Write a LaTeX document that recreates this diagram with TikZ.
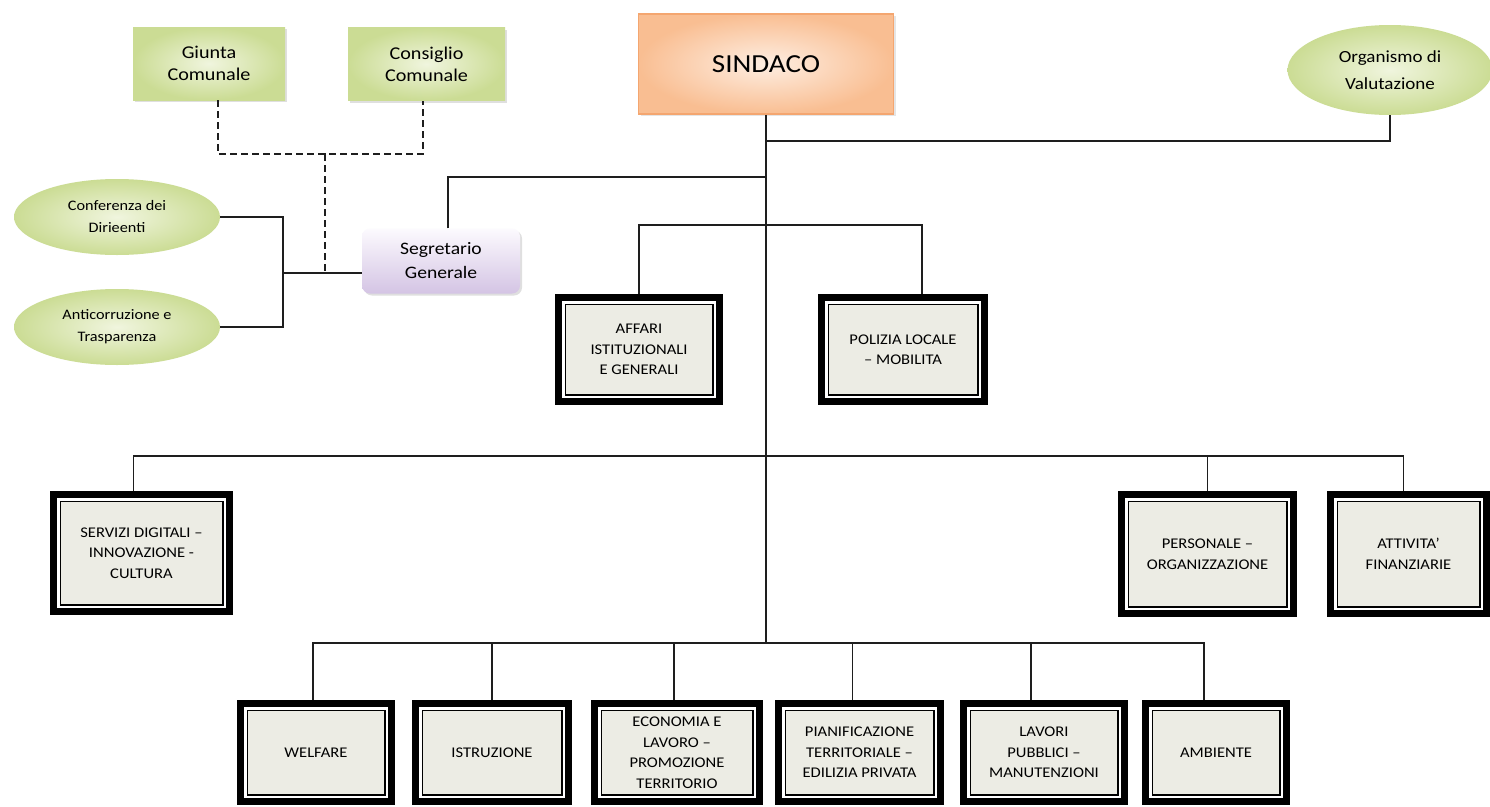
\documentclass[tikz,border=0pt]{standalone}
\usepackage{fontspec}
\setmainfont{Carlito}[FakeStretch=1.12]
\setsansfont{Carlito}[FakeStretch=1.12]
\usepackage{tikz}
\usetikzlibrary{calc,positioning,shapes.geometric,shadows}
\definecolor{verde}{RGB}{203,220,148}
\definecolor{verdeChiaro}{RGB}{240,245,222}
\definecolor{pesca}{RGB}{249,190,146}
\definecolor{pescaChiaro}{RGB}{254,238,226}
\definecolor{bordoPesca}{RGB}{244,166,112}
\definecolor{lilla}{RGB}{212,196,228}
\definecolor{lillaChiaro}{RGB}{252,250,254}
\definecolor{fondo}{RGB}{236,236,228}
\definecolor{linea}{RGB}{30,30,30}
\tikzset{%
  % Specifications for style of nodes:
  organo/.style = {rectangle, inner color=verdeChiaro, outer color=verde,
    drop shadow={shadow xshift=2pt, shadow yshift=-2pt, opacity=0.25},
    minimum width=152pt, minimum height=73pt,
    text centered, font=\sffamily\fontsize{18}{22}\selectfont},
  consulta/.style = {ellipse, inner color=verdeChiaro, outer color=verde,
    minimum width=206pt, minimum height=76pt, inner sep=0pt,
    text centered, font=\sffamily\fontsize{14.5}{22}\selectfont},
  capo/.style = {rectangle, draw=bordoPesca, line width=1.5pt,
    inner color=pescaChiaro, outer color=pesca,
    drop shadow={shadow xshift=2pt, shadow yshift=-2pt, opacity=0.2},
    minimum width=255pt, minimum height=100pt,
    text centered, font=\sffamily\fontsize{26}{30}\selectfont},
  segretario/.style = {rectangle, rounded corners=8pt,
    top color=lillaChiaro, bottom color=lilla,
    drop shadow={shadow xshift=2pt, shadow yshift=-2pt, opacity=0.25},
    minimum width=158pt, minimum height=65pt,
    text centered, font=\sffamily\fontsize{17.5}{24}\selectfont},
  settore/.style = {rectangle, draw=black, line width=7pt, fill=fondo,
    path picture={
      \draw[white, line width=2.5pt]
        ([shift={(4.75pt,-4.75pt)}]path picture bounding box.north west) rectangle
        ([shift={(-4.75pt,4.75pt)}]path picture bounding box.south east);
      \draw[black, line width=1.5pt]
        ([shift={(6.75pt,-6.75pt)}]path picture bounding box.north west) rectangle
        ([shift={(-6.75pt,6.75pt)}]path picture bounding box.south east);
    },
    text centered, font=\sffamily\fontsize{14.8}{20.5}\selectfont},
  link/.style = {draw=linea, line width=1.3pt},
  linkDash/.style = {link, dash pattern=on 7pt off 4pt},
}

\begin{document}
\begin{tikzpicture}[x=1pt, y=-1pt, every node/.style={align=center}]
  \useasboundingbox[fill=white] (0,0) rectangle (1490,806);
  % Specification of nodes (position, etc.)
  \node(Sindaco)[capo] at (766,64) {SINDACO};
  \node(Giunta)[organo] at (209,63.5) {Giunta\\Comunale};
  \node(Consiglio)[organo, minimum width=157pt] at (426.5,64) {Consiglio\\Comunale};
  \node(OIV)[consulta, minimum width=205pt, minimum height=90pt,
    font=\sffamily\fontsize{17}{27}\selectfont] at (1390,70) {Organismo di\\Valutazione};
  \node(Conf)[consulta] at (117,217) {Conferenza dei\\Dirieenti};
  \node(Anti)[consulta] at (117,327) {Anticorruzione e\\Trasparenza};
  \node(Segr)[segretario] at (441,261) {Segretario\\Generale};
  \node(Affari)[settore, minimum width=161pt, minimum height=104pt] at (639,349.5)
    {AFFARI\\ISTITUZIONALI\\E GENERALI};
  \node(Polizia)[settore, minimum width=163pt, minimum height=104pt] at (903,349.5)
    {POLIZIA LOCALE\\– MOBILITA};
  \node(Servizi)[settore, minimum width=176pt, minimum height=117pt] at (141.5,553)
    {SERVIZI DIGITALI –\\INNOVAZIONE -\\CULTURA};
  \node(Pers)[settore, minimum width=172pt, minimum height=119pt] at (1207.5,554)
    {PERSONALE –\\ORGANIZZAZIONE};
  \node(Fin)[settore, minimum width=156pt, minimum height=119pt] at (1408.5,554)
    {ATTIVITA'\\FINANZIARIE};
  \node(Welf)[settore, minimum width=151pt, minimum height=98pt] at (316,752.5) {WELFARE};
  \node(Istr)[settore, minimum width=153pt, minimum height=98pt] at (492,752.5) {ISTRUZIONE};
  \node(Econ)[settore, minimum width=165pt, minimum height=98pt] at (677,752.5)
    {ECONOMIA E\\LAVORO –\\PROMOZIONE\\TERRITORIO};
  \node(Pian)[settore, minimum width=162pt, minimum height=98pt] at (859.5,752.5)
    {PIANIFICAZIONE\\TERRITORIALE –\\EDILIZIA PRIVATA};
  \node(LLPP)[settore, minimum width=161pt, minimum height=98pt] at (1044,752.5)
    {LAVORI\\PUBBLICI –\\MANUTENZIONI};
  \node(Amb)[settore, minimum width=141pt, minimum height=98pt] at (1216,752.5) {AMBIENTE};
  % junctions on the main line
  \coordinate (tOIV) at (766,141);
  \coordinate (tSegr) at (766,177);
  \coordinate (bus1) at (766,225);
  \coordinate (bus2) at (766,456);
  \coordinate (bus3) at (766,643);
  \coordinate (dashJ) at (325,154);
  \coordinate (brk) at (283,273);
  \draw[link] (Sindaco.south) -- (bus3);
  \draw[link] (OIV.south) |- (tOIV);
  \draw[link] ([xshift=7pt]Segr.north) |- (tSegr);
  \draw[link] (Affari.north) |- (bus1) -| ([xshift=19pt]Polizia.north);
  \draw[link] ([xshift=-8pt]Servizi.north) |- (bus2) -| ([xshift=-5pt]Fin.north);
  \draw[link] (Pers.north) -- (Pers.north |- bus2);
  \draw[link] ([xshift=-3pt]Welf.north) |- (bus3) -| ([xshift=-12pt]Amb.north);
  \draw[link] (Istr.north) -- (Istr.north |- bus3);
  \draw[link] ([xshift=-3pt]Econ.north) -- ([xshift=-3pt]Econ.north |- bus3);
  \draw[link] ([xshift=-7pt]Pian.north) -- ([xshift=-7pt]Pian.north |- bus3);
  \draw[link] ([xshift=-13pt]LLPP.north) -- ([xshift=-13pt]LLPP.north |- bus3);
  \draw[linkDash] ([xshift=9pt]Giunta.south) |- (dashJ) -| ([xshift=-3.5pt]Consiglio.south);
  \draw[linkDash] (dashJ) -- (dashJ |- brk);
  \draw[link] (Conf.east) -| (brk) |- (Anti.east);
  \draw[link] (brk) -- (brk -| Segr.west);
\end{tikzpicture}
\end{document}
